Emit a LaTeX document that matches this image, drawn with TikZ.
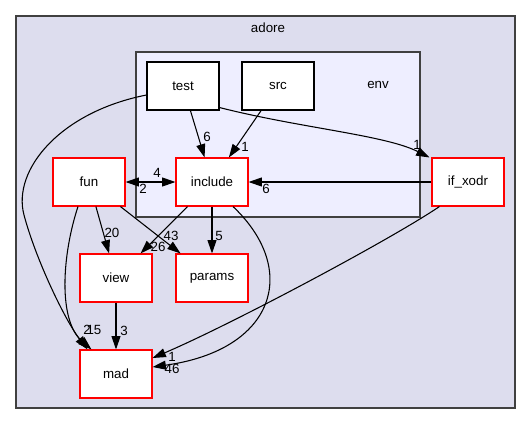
\documentclass[tikz,border=0pt]{standalone}
\usepackage{fontspec}
\setmainfont{Liberation Sans}
\usetikzlibrary{calc}
\usetikzlibrary{arrows.meta}

\definecolor{fundoadore}{HTML}{DDDDEE}
\definecolor{fundoenv}{HTML}{EEEEFF}
\definecolor{bordagrupo}{HTML}{404040}

\begin{document}
\begin{tikzpicture}[x=0.75pt,y=-0.75pt,
	pasta/.style={draw=red,fill=white,line width=0.8pt,minimum width=54pt,minimum height=36pt,inner sep=0pt,font=\fontsize{10}{12}\selectfont},
	folha/.style={pasta,draw=black},
	dep/.style={line width=0.8pt,-{Triangle[length=10pt,width=6.7pt]}},
	depdupla/.style={line width=0.8pt,{Triangle[length=10pt,width=6.7pt]}-{Triangle[length=10pt,width=6.7pt]}},
	num/.style={inner sep=0pt,font=\fontsize{10}{12}\selectfont}]
	
	% A moldura da figura
	\useasboundingbox (0,0) rectangle (531,425);
	
	% O grupo "adore"
	\draw [draw=bordagrupo,fill=fundoadore,line width=0.8pt] (16,16) rectangle (515,408);
	\node [num] (adore) at (268,28) {adore};
	
	% O grupo "env"
	\draw [draw=bordagrupo,fill=fundoenv,line width=0.8pt] (136,52) rectangle (420,217);
	\node [num] (env) at (378,85) {env};
	
	% As pastas
	\node [folha] (test) at (183,86) {test};
	\node [folha] (src) at (278,86) {src};
	\node [pasta] (include) at (212,182) {include};
	\node [pasta] (fun) at (89,182) {fun};
	\node [pasta] (ifxodr) at (468,182) {if\_xodr};
	\node [pasta] (view) at (116,278) {view};
	\node [pasta] (params) at (212,278) {params};
	\node [pasta] (mad) at (116,374) {mad};
	
	% As dependências de test
	\draw [dep] (test) -- (include) node [num] (l1) at (207,137) {6};
	\draw [dep] ($(test.south east)+(0,-3)$) .. controls (300,128) and (385,135) .. ($(ifxodr.north west)+(-2,0)$) node [num] (l2) at (417,145) {1};
	\draw [dep] ($(test.west)+(0,9)$) .. controls (60,112) and (12,170) .. (24,215) .. controls (36,260) and (65,320) .. ($(mad.north west)+(8,0)$) node [num] (l3) at (87,330) {2};
	
	% A dependência de src
	\draw [dep] (src) -- (include) node [num] (l4) at (245,147) {1};
	
	% Entre fun e include
	\draw [depdupla] (fun) -- (include) node [num] (l5) at (157,173) {4} node [num] (l6) at (143,189) {2};
	
	% A dependência de if_xodr
	\draw [dep] (ifxodr) -- (include) node [num] (l7) at (266,189) {6};
	\draw [dep] ($(ifxodr.south west)+(8,0)$) .. controls (390,240) and (230,325) .. ($(mad.east)+(0,-16)$) node [num] (l8) at (172,357) {1};
	
	% As dependências de fun
	\draw [dep] (fun) -- (view) node [num] (l9) at (112,233) {20};
	\draw [dep] (fun) -- (params) node [num] (l10) at (171,236) {43};
	\draw [dep] ($(fun.south)+(-11,0)$) .. controls (62,255) and (58,320) .. ($(mad.north west)+(12,0)$) node [num] (l11) at (94,330) {15};
	
	% As dependências de include
	\draw [dep] (include) -- (view) node [num] (l12) at (158,247) {26};
	\draw [dep] (include) -- (params) node [num] (l13) at (219,236) {5};
	\draw [dep] ($(include.south)+(21,0)$) .. controls (300,270) and (275,350) .. ($(mad.east)+(0,-7)$) node [num] (l14) at (172,369) {46};
	
	% A dependência de view
	\draw [dep] (view) -- (mad) node [num] (l15) at (124,331) {3};
	
\end{tikzpicture}
\end{document}
